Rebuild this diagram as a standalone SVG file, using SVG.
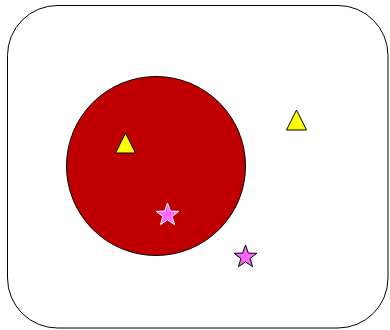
<svg xmlns="http://www.w3.org/2000/svg" width="390" height="330" viewBox="0 0 390 330">
<defs>
<style>
.tri{fill:#ffff00;stroke:#000;stroke-width:1}
.star{fill:#ff66ff}
</style>
<polygon id="starShape" points="0,-12 2.82,-3.88 11.41,-3.71 4.57,1.48 7.05,9.71 0,4.8 -7.05,9.71 -4.57,1.48 -11.41,-3.71 -2.82,-3.88"/>
</defs>
<rect width="390" height="330" fill="#fff"/>
<g id="frame"><rect x="7.5" y="5.5" width="380.5" height="322.5" rx="50" ry="50" fill="#fff" stroke="#000" stroke-width="1"/></g>
<g id="circle"><circle cx="156" cy="166" r="89.5" fill="#c00000" stroke="#000" stroke-width="1"/></g>
<g id="triangle1"><polygon class="tri" points="125.5,133 135.5,153 115.5,153"/></g>
<g id="triangle2"><polygon class="tri" points="296.5,110 306.5,130 286.5,130"/></g>
<g id="star1"><use href="#starShape" class="star" transform="translate(167.5,215)" stroke="#ffffff" stroke-width="1"/></g>
<g id="star2"><use href="#starShape" class="star" transform="translate(245.5,257)" stroke="#000" stroke-width="1"/></g>
<g id="connectors"></g>
</svg>
